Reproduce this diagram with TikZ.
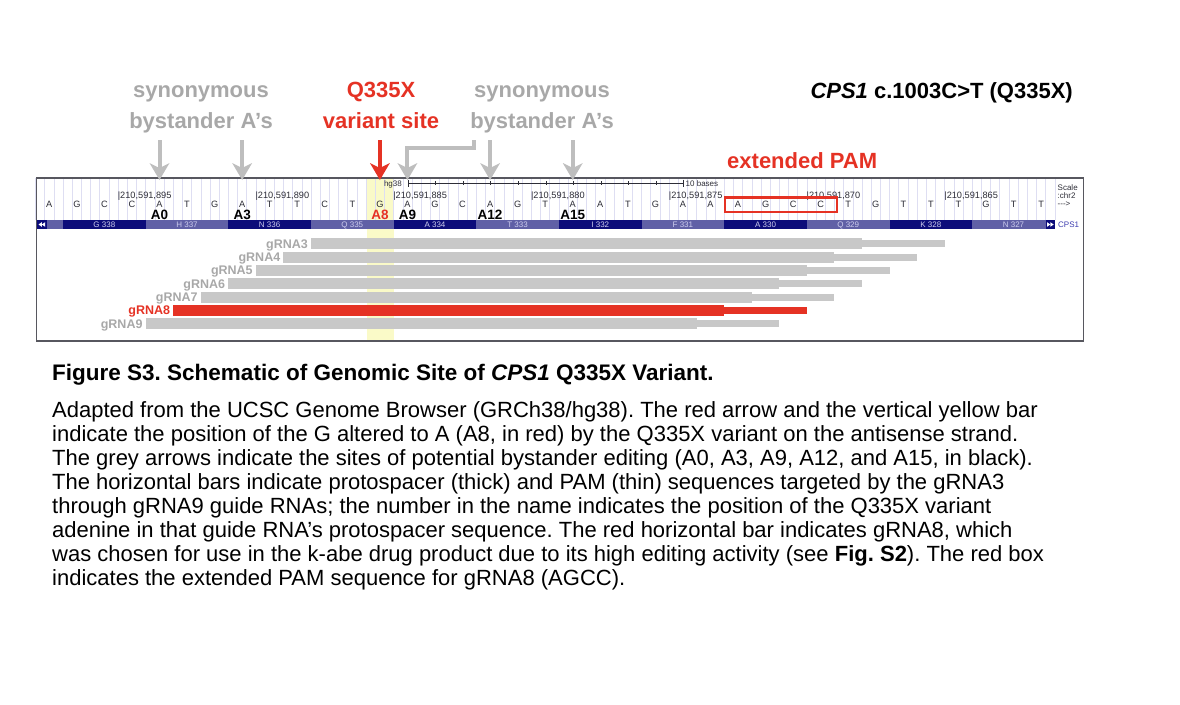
\documentclass[tikz,border=0pt]{standalone}
\usepackage{fontspec}
\setmainfont{Liberation Sans}
\usetikzlibrary{arrows.meta, positioning, calc}
\frenchspacing
\definecolor{varred}{RGB}{229, 50, 36}
\definecolor{arrgrey}{RGB}{190, 190, 190}
\definecolor{labgrey}{RGB}{168, 168, 168}
\definecolor{bargrey}{RGB}{200, 200, 200}
\definecolor{aadark}{RGB}{12, 12, 122}
\definecolor{aalight}{RGB}{96, 96, 166}
\definecolor{aatext}{RGB}{205, 205, 238}
\definecolor{hilite}{RGB}{250, 250, 200}
\definecolor{guide}{RGB}{222, 222, 242}
\definecolor{genetext}{RGB}{45, 45, 55}
\definecolor{cpsblue}{RGB}{60, 60, 175}

\tikzset{
  tinytxt/.style={font=\fontsize{8}{9}\selectfont, text=genetext, inner sep=0pt},
  basetxt/.style={font=\fontsize{9.2}{10}\selectfont, text=genetext, inner sep=0pt, anchor=base},
  alabel/.style={font=\fontsize{13.5}{14}\selectfont\bfseries, inner sep=0pt, anchor=base},
  aatxt/.style={font=\fontsize{8}{9}\selectfont, text=aatext, inner sep=0pt, anchor=base},
  glabel/.style={font=\fontsize{12.5}{13}\selectfont\bfseries, inner sep=0pt, anchor=base east},
  toplabel/.style={font=\fontsize{22}{24}\selectfont\bfseries, inner sep=0pt, anchor=base},
  captxt/.style={font=\fontsize{22}{24.1}\selectfont, inner sep=0pt},
  greyarrow/.style={draw=arrgrey, line width=4pt,
    -{Stealth[length=17pt, width=20pt, inset=5pt, line width=0pt]}},
  redarrow/.style={greyarrow, draw=varred},
}

\begin{document}
\begin{tikzpicture}[x=1pt, y=-1pt]
  \useasboundingbox (0,0) rectangle (1180,704);

  % highlighted variant column and guide lines
  \fill[hilite] (366.5,178) rectangle (394,341);
  \foreach \k in {0,...,111}
    \draw[guide, line width=0.6pt] ({35.5+9.1833*\k},178) -- ++(0,42);

  % scale bar
  \draw[genetext, line width=0.6pt] (408,183) -- (683.5,183);
  \foreach \t in {1,...,9}
    \draw[genetext, line width=0.4pt] ({408+27.55*\t},181) -- ++(0,4);
  \draw[genetext, line width=0.6pt] (408,179.5) -- (408,187);
  \draw[genetext, line width=0.6pt] (683.5,179.5) -- (683.5,187);
  \node[tinytxt, anchor=base east] (hgver) at (402,186.5) {hg38};
  \node[tinytxt, anchor=base west] (scalelen) at (685.5,186.5) {10 bases};

  % genomic positions
  \foreach \p [count=\j from 0] in {895,890,885,880,875,870,865}
    \node[basetxt, anchor=base west] (pos\p) at ({35+27.55*(3+5*\j)},198.3) {|210,591,\p};

  % sequence
  \def\seq{A,G,C,C,A,T,G,A,T,T,C,T,G,A,G,C,A,G,T,A,A,T,G,A,A,A,G,C,C,T,G,T,T,T,G,T,T}
  \foreach \b [count=\i from 0] in \seq
    \node[basetxt] (base\i) at ({49.3+27.55*\i},207.3) {\b};

  % adenine labels
  \foreach \i/\n in {4/A0, 7/A3, 13/A9, 16/A12, 19/A15}
    \node[alabel] (lab\n) at ({49.3+27.55*\i},219.3) {\n};
  \node[alabel, text=varred] (labA8) at ({49.3+27.55*12},219.3) {A8};

  % codons
  \fill[aalight] (37,220) rectangle (63,229);
  \foreach \aa [count=\k from 0] in {G 338, H 337, N 336, Q 335, A 334, T 333,
                                   I 332, F 331, A 330, Q 329, K 328, N 327} {
    \pgfmathsetmacro\xa{35.5+27.55*(1+3*\k)}
    \ifodd\k \def\aacol{aalight}\else\def\aacol{aadark}\fi
    \fill[\aacol] (\xa,220) rectangle ++(82.65,9);
    \node[aatxt] (aa\k) at (\xa+41.3,227.3) {\aa};
  }
  \fill[aadark] (37,220) rectangle (46.5,229);
  \fill[white] (38.5,224.5) -- (41.8,222.2) -- (41.8,226.8) -- cycle;
  \fill[white] (41.8,224.5) -- (45.1,222.2) -- (45.1,226.8) -- cycle;
  \fill[aadark] (1045.5,220) rectangle (1055,229);
  \fill[white] (1053.6,224.5) -- (1050.3,222.2) -- (1050.3,226.8) -- cycle;
  \fill[white] (1050.3,224.5) -- (1047,222.2) -- (1047,226.8) -- cycle;
  \node[tinytxt, text=cpsblue, anchor=base west] (gene) at (1058,227.5) {CPS1};

  % scale column
  \node[tinytxt, anchor=base west] (scaleword) at (1057.5,190) {Scale};
  \node[tinytxt, anchor=base west] (chrom) at (1057.5,198.5) {:chr2};
  \node[tinytxt, anchor=base west] (strand) at (1057.5,206.5) {{-}{-}{-}>};

  % guide RNAs: protospacer (thick) and PAM (thin)
  \foreach \k in {3,...,9} {
    \pgfmathsetmacro\yr{243.8+13.33*(\k-3)}
    \pgfmathsetmacro\xs{35.5+27.55*(13-\k)}
    \pgfmathsetmacro\xm{35.5+27.55*(33-\k)}
    \pgfmathsetmacro\xe{35.5+27.55*(36-\k)}
    \ifnum\k=8 \def\gcol{varred}\def\tcol{varred}\else\def\gcol{bargrey}\def\tcol{labgrey}\fi
    \fill[\gcol] (\xm,\yr-3.5) rectangle (\xe,\yr+3.5);
    \fill[\gcol] (\xs,\yr-5.5) rectangle (\xm,\yr+5.5);
    \node[glabel, text=\tcol] (g\k) at (\xs-3,\yr+4.5) {gRNA\k};
  }

  % browser frame and extended PAM box
  \draw[genetext!80, line width=1.2pt] (36.5,178) rectangle (1083.5,341);
  \draw[varred, line width=2.6pt] (725,197.5) rectangle (837,212);
  \node[toplabel, text=varred, anchor=base west] (pamlab) at (727,168) {extended PAM};

  % callouts
  \node[toplabel, text=labgrey] (synL1) at (201,97) {synonymous};
  \node[toplabel, text=labgrey] (synL2) at (201,128) {bystander A’s};
  \node[toplabel, text=varred] (var1) at (381,97) {Q335X};
  \node[toplabel, text=varred] (var2) at (381,128) {variant site};
  \node[toplabel, text=labgrey] (synR1) at (542,97) {synonymous};
  \node[toplabel, text=labgrey] (synR2) at (542,128) {bystander A’s};
  \node[toplabel, anchor=base east] (mutname) at (1073,98) {\textit{CPS1} c.1003C>T (Q335X)};

  \coordinate (arrtop) at (0,140);
  \coordinate (arrtip) at (0,180);
  \coordinate (elbow) at (473.6,148);
  \foreach \i in {4,7,16,19}
    \draw[greyarrow] (base\i |- arrtop) -- (base\i |- arrtip);
  \draw[greyarrow] (elbow |- arrtop) -- (elbow) -- (base13 |- elbow) -- (base13 |- arrtip);
  \draw[redarrow] (base12 |- arrtop) -- (base12 |- arrtip);

  % caption
  \node[captxt, font=\fontsize{22.5}{24.1}\selectfont, anchor=base west] (figtitle) at (52,380)
    {\bfseries Figure S3. Schematic of Genomic Site of \textit{CPS1} Q335X Variant.};
  \node[captxt, anchor=north west, align=left] (figtext) at (52,401) {%
    Adapted from the UCSC Genome Browser (GRCh38/hg38). The red arrow and the vertical yellow bar\\
    indicate the position of the G altered to A (A8, in red) by the Q335X variant on the antisense strand.\\
    The grey arrows indicate the sites of potential bystander editing (A0, A3, A9, A12, and A15, in black).\\
    The horizontal bars indicate protospacer (thick) and PAM (thin) sequences targeted by the gRNA3\\
    through gRNA9 guide RNAs; the number in the name indicates the position of the Q335X variant\\
    adenine in that guide RNA’s protospacer sequence. The red horizontal bar indicates gRNA8, which\\
    was chosen for use in the k-abe drug product due to its high editing activity (see \textbf{Fig. S2}). The red box\\
    indicates the extended PAM sequence for gRNA8 (AGCC).};
\end{tikzpicture}
\end{document}
